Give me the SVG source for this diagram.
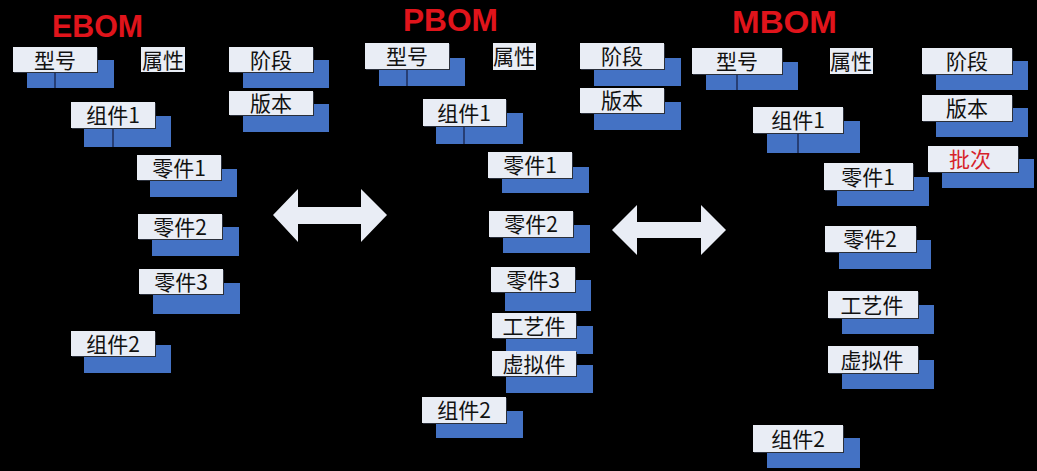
<svg xmlns="http://www.w3.org/2000/svg" width="1037" height="471" viewBox="0 0 1037 471">
<style>
.bg{fill:#000}
.b{fill:#4472C4}
.w{fill:#E9EDF5}
.sh{fill:#2A2F3A}
.dv{stroke:#1E2E5A;stroke-width:1.5}
.t{font-family:"Noto Sans CJK SC","Noto Sans",sans-serif;font-size:21px;fill:#111;text-anchor:middle;dominant-baseline:central}
.red{fill:#D7222A}
.ti{font-family:"Liberation Sans","Noto Sans",sans-serif;font-weight:bold;font-size:32px;fill:#E0141B}
.ar{fill:#E9EDF5}
</style>
<rect class="bg" x="0" y="0" width="1037" height="471"/>

<!-- titles -->
<text class="ti" x="52" y="37" textLength="91" lengthAdjust="spacingAndGlyphs">EBOM</text>
<text class="ti" x="403" y="31" textLength="95" lengthAdjust="spacingAndGlyphs">PBOM</text>
<text class="ti" x="732" y="33" textLength="105" lengthAdjust="spacingAndGlyphs">MBOM</text>

<!-- connectors (double arrows) -->
<g id="connectors">
  <polygon class="ar" points="273,215 298,189 298,207 361,207 361,189 387,215 361,242 361,224 298,224 298,242"/>
  <polygon class="ar" points="612,230 637,205 637,222 701,222 701,205 726,230 701,255 701,238 637,238 637,255"/>
</g>

<!-- EBOM -->
<g id="e-xinghao"><rect class="b" x="27" y="60" width="87" height="28"/><line class="dv" x1="55" y1="72" x2="55" y2="88"/><rect class="sh" x="14" y="48" width="84" height="25"/><rect class="w" x="13" y="47" width="84" height="25"/><text class="t" x="55" y="59">型号</text></g>
<g id="e-shuxing"><rect class="w" x="141" y="47" width="44" height="25"/><text class="t" x="163" y="59">属性</text></g>
<g id="e-jieduan"><rect class="b" x="243" y="60" width="86" height="28"/><rect class="sh" x="230" y="48" width="84" height="25"/><rect class="w" x="229" y="47" width="84" height="25"/><text class="t" x="271" y="59">阶段</text></g>
<g id="e-banben"><rect class="b" x="243" y="104" width="86" height="28"/><rect class="sh" x="230" y="92" width="84" height="24"/><rect class="w" x="229" y="91" width="84" height="24"/><text class="t" x="271" y="102">版本</text></g>
<g id="e-zujian1"><rect class="b" x="84" y="116" width="87" height="31"/><line class="dv" x1="113" y1="128" x2="113" y2="147"/><rect class="sh" x="72" y="103" width="84" height="26"/><rect class="w" x="71" y="102" width="84" height="26"/><text class="t" x="113" y="114">组件1</text></g>
<g id="e-lingjian1"><rect class="b" x="150" y="169" width="87" height="28"/><rect class="sh" x="138" y="156" width="84" height="25"/><rect class="w" x="137" y="155" width="84" height="25"/><text class="t" x="179" y="167">零件1</text></g>
<g id="e-lingjian2"><rect class="b" x="152" y="227" width="87" height="29"/><rect class="sh" x="139" y="215" width="84" height="25"/><rect class="w" x="138" y="214" width="84" height="25"/><text class="t" x="180" y="226">零件2</text></g>
<g id="e-lingjian3"><rect class="b" x="153" y="283" width="87" height="31"/><rect class="sh" x="140" y="270" width="84" height="25"/><rect class="w" x="139" y="269" width="84" height="25"/><text class="t" x="181" y="281">零件3</text></g>
<g id="e-zujian2"><rect class="b" x="84" y="345" width="87" height="28"/><rect class="sh" x="72" y="332" width="84" height="25"/><rect class="w" x="71" y="331" width="84" height="25"/><text class="t" x="113" y="343">组件2</text></g>

<!-- PBOM -->
<g id="p-xinghao"><rect class="b" x="379" y="58" width="86" height="28"/><line class="dv" x1="407" y1="69" x2="407" y2="86"/><rect class="sh" x="366" y="44" width="84" height="26"/><rect class="w" x="365" y="43" width="84" height="26"/><text class="t" x="407" y="55">型号</text></g>
<g id="p-shuxing"><rect class="w" x="493" y="43" width="43" height="27"/><text class="t" x="514" y="55">属性</text></g>
<g id="p-jieduan"><rect class="b" x="594" y="58" width="87" height="28"/><rect class="sh" x="581" y="44" width="84" height="26"/><rect class="w" x="580" y="43" width="84" height="26"/><text class="t" x="622" y="55">阶段</text></g>
<g id="p-banben"><rect class="b" x="594" y="102" width="87" height="28"/><rect class="sh" x="581" y="89" width="84" height="25"/><rect class="w" x="580" y="88" width="84" height="25"/><text class="t" x="622" y="99">版本</text></g>
<g id="p-zujian1"><rect class="b" x="436" y="113" width="87" height="31"/><line class="dv" x1="464" y1="126" x2="464" y2="144"/><rect class="sh" x="424" y="100" width="83" height="27"/><rect class="w" x="423" y="99" width="83" height="27"/><text class="t" x="464" y="112">组件1</text></g>
<g id="p-lingjian1"><rect class="b" x="502" y="167" width="87" height="26"/><rect class="sh" x="489" y="153" width="84" height="26"/><rect class="w" x="488" y="152" width="84" height="26"/><text class="t" x="530" y="164">零件1</text></g>
<g id="p-lingjian2"><rect class="b" x="503" y="225" width="87" height="28"/><rect class="sh" x="490" y="212" width="84" height="26"/><rect class="w" x="489" y="211" width="84" height="26"/><text class="t" x="531" y="223">零件2</text></g>
<g id="p-lingjian3"><rect class="b" x="505" y="280" width="86" height="31"/><rect class="sh" x="492" y="268" width="84" height="25"/><rect class="w" x="491" y="267" width="84" height="25"/><text class="t" x="533" y="279">零件3</text></g>
<g id="p-gongyijian"><rect class="b" x="506" y="326" width="87" height="28"/><rect class="sh" x="493" y="314" width="84" height="25"/><rect class="w" x="492" y="313" width="84" height="25"/><text class="t" x="534" y="325">工艺件</text></g>
<g id="p-xunijian"><rect class="b" x="506" y="365" width="87" height="28"/><rect class="sh" x="493" y="352" width="84" height="25"/><rect class="w" x="492" y="351" width="84" height="25"/><text class="t" x="534" y="363">虚拟件</text></g>
<g id="p-zujian2"><rect class="b" x="436" y="411" width="87" height="27"/><rect class="sh" x="423" y="398" width="84" height="26"/><rect class="w" x="422" y="397" width="84" height="26"/><text class="t" x="464" y="409">组件2</text></g>

<!-- MBOM -->
<g id="m-xinghao"><rect class="b" x="706" y="62" width="92" height="28"/><line class="dv" x1="737" y1="74" x2="737" y2="90"/><rect class="sh" x="693" y="49" width="90" height="26"/><rect class="w" x="692" y="48" width="90" height="26"/><text class="t" x="737" y="60">型号</text></g>
<g id="m-shuxing"><rect class="w" x="830" y="48" width="43" height="26"/><text class="t" x="851" y="60">属性</text></g>
<g id="m-jieduan"><rect class="b" x="936" y="61" width="92" height="29"/><rect class="sh" x="923" y="49" width="90" height="26"/><rect class="w" x="922" y="48" width="90" height="26"/><text class="t" x="967" y="60">阶段</text></g>
<g id="m-banben"><rect class="b" x="936" y="108" width="92" height="29"/><rect class="sh" x="923" y="96" width="90" height="26"/><rect class="w" x="922" y="95" width="90" height="26"/><text class="t" x="967" y="107">版本</text></g>
<g id="m-pici"><rect class="b" x="942" y="159" width="92" height="29"/><rect class="sh" x="929" y="147" width="90" height="26"/><rect class="w" x="928" y="146" width="90" height="26"/><text class="t red" x="970" y="158">批次</text></g>
<g id="m-zujian1"><rect class="b" x="767" y="121" width="93" height="32"/><line class="dv" x1="798" y1="134" x2="798" y2="153"/><rect class="sh" x="754" y="108" width="90" height="26"/><rect class="w" x="753" y="107" width="90" height="26"/><text class="t" x="798" y="119">组件1</text></g>
<g id="m-lingjian1"><rect class="b" x="837" y="177" width="92" height="29"/><rect class="sh" x="825" y="164" width="89" height="27"/><rect class="w" x="824" y="163" width="89" height="27"/><text class="t" x="868" y="176">零件1</text></g>
<g id="m-lingjian2"><rect class="b" x="839" y="240" width="92" height="29"/><rect class="sh" x="826" y="227" width="91" height="26"/><rect class="w" x="825" y="226" width="91" height="26"/><text class="t" x="870" y="238">零件2</text></g>
<g id="m-gongyijian"><rect class="b" x="842" y="305" width="92" height="29"/><rect class="sh" x="829" y="292" width="90" height="27"/><rect class="w" x="828" y="291" width="90" height="27"/><text class="t" x="872" y="304">工艺件</text></g>
<g id="m-xunijian"><rect class="b" x="842" y="360" width="92" height="29"/><rect class="sh" x="829" y="347" width="90" height="27"/><rect class="w" x="828" y="346" width="90" height="27"/><text class="t" x="872" y="359">虚拟件</text></g>
<g id="m-zujian2"><rect class="b" x="767" y="438" width="93" height="30"/><rect class="sh" x="754" y="426" width="90" height="27"/><rect class="w" x="753" y="425" width="90" height="27"/><text class="t" x="798" y="438">组件2</text></g>
</svg>
